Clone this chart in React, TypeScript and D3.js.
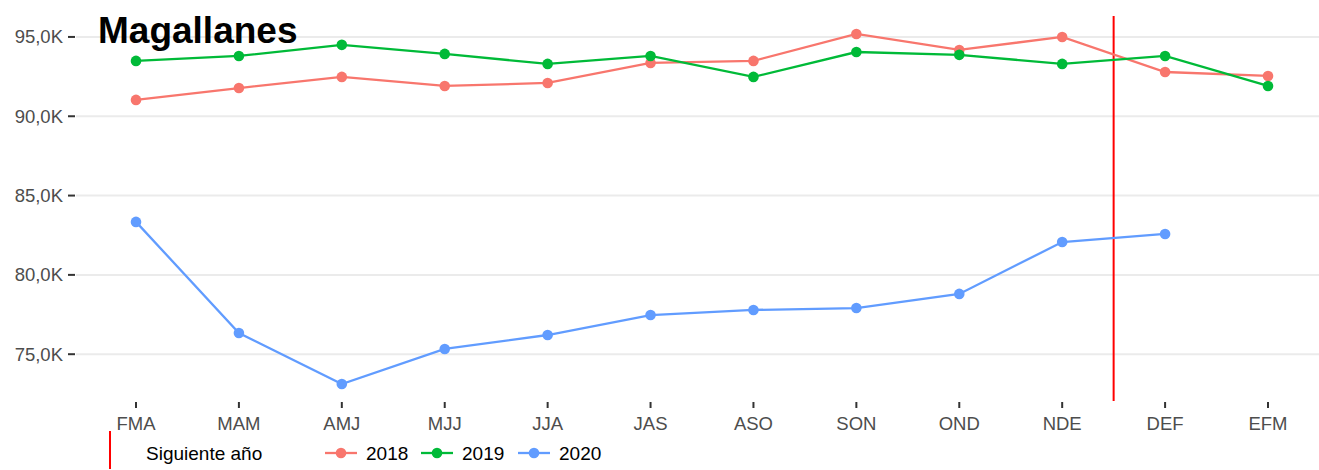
import { useEffect, useRef } from 'react'
import * as d3 from 'd3'

const months = ['FMA', 'MAM', 'AMJ', 'MJJ', 'JJA', 'JAS', 'ASO', 'SON', 'OND', 'NDE', 'DEF', 'EFM']
const years = ['2018', '2019', '2020']
const colors = ['#F8766D', '#00BA38', '#619CFF']
const values2018 = [91030, 91780, 92480, 91910, 92100, 93360, 93490, 95190, 94180, 95000, 92790, 92540]
const values2019 = [93490, 93800, 94500, 93930, 93300, 93800, 92480, 94050, 93870, 93300, 93800, 91910]
const values2020 = [83340, 76340, 73120, 75330, 76210, 77470, 77790, 77910, 78800, 82070, 82580]
const yTicks = [75000, 80000, 85000, 90000, 95000]
const cutIndex = 9.5 // between NDE and DEF

export default function App() {
  const ref = useRef<SVGSVGElement>(null)
  useEffect(() => {
    const width = 1319
    const height = 470
    const svg = d3.select(ref.current)
    svg.selectAll('*').remove()
    const root = svg.attr('viewBox', `0 0 ${width} ${height}`)
    const font = 'Liberation Sans, Arial, sans-serif'

    const panel = { left: 76, right: 1319, top: 16, bottom: 401 }
    const x = d3.scaleLinear().domain([0, 11]).range([136, 1268])
    const y = d3.scaleLinear().domain([72050, 96320]).range([panel.bottom, panel.top])

    // grid
    root.append('g').selectAll('line').data(yTicks).join('line')
      .attr('x1', panel.left).attr('x2', panel.right)
      .attr('y1', d => y(d)).attr('y2', d => y(d))
      .attr('stroke', '#EBEBEB').attr('stroke-width', 2)

    // y axis ticks + labels
    const fmt = (v: number) => (v / 1000).toFixed(1).replace('.', ',') + 'K'
    const ya = root.append('g')
    yTicks.forEach(t => {
      ya.append('line').attr('x1', 68).attr('x2', 75).attr('y1', y(t)).attr('y2', y(t))
        .attr('stroke', '#333').attr('stroke-width', 2)
      ya.append('text').attr('x', 63).attr('y', y(t)).attr('dy', '0.35em')
        .attr('text-anchor', 'end').attr('fill', '#4D4D4D')
        .style('font-family', font).style('font-size', '18.5px').text(fmt(t))
    })

    // x axis ticks + labels
    const xa = root.append('g')
    months.forEach((m, i) => {
      xa.append('line').attr('x1', x(i)).attr('x2', x(i)).attr('y1', 402).attr('y2', 408)
        .attr('stroke', '#333').attr('stroke-width', 2)
      xa.append('text').attr('x', x(i)).attr('y', 430)
        .attr('text-anchor', 'middle').attr('fill', '#4D4D4D')
        .style('font-family', font).style('font-size', '18.5px').text(m)
    })

    // red cut line
    root.append('line')
      .attr('x1', x(cutIndex)).attr('x2', x(cutIndex))
      .attr('y1', panel.top).attr('y2', panel.bottom)
      .attr('stroke', '#FF0000').attr('stroke-width', 2)

    const series = [values2018, values2019, values2020]
    const line = d3.line<number>().x((_, i) => x(i)).y(d => y(d))
    series.forEach((vals, k) => {
      const g = root.append('g')
      g.append('path').attr('d', line(vals))
        .attr('fill', 'none').attr('stroke', colors[k]).attr('stroke-width', 2.3)
      g.selectAll('circle').data(vals).join('circle')
        .attr('cx', (_, i) => x(i)).attr('cy', d => y(d)).attr('r', 5.3)
        .attr('fill', colors[k])
    })

    // title
    root.append('text').attr('x', 98).attr('y', 43)
      .style('font-family', font).style('font-size', '37px').style('font-weight', 'bold')
      .attr('fill', '#000').text('Magallanes')

    // legend
    const lg = root.append('g')
    lg.append('line').attr('x1', 110).attr('x2', 110).attr('y1', 431).attr('y2', 469)
      .attr('stroke', '#FF0000').attr('stroke-width', 2)
    lg.append('text').attr('x', 146).attr('y', 453).attr('dy', '0.35em')
      .style('font-family', font).style('font-size', '19px').attr('fill', '#000')
      .text('Siguiente año')
    const keyX = [325, 421, 518]
    years.forEach((yr, k) => {
      lg.append('line').attr('x1', keyX[k]).attr('x2', keyX[k] + 32).attr('y1', 453).attr('y2', 453)
        .attr('stroke', colors[k]).attr('stroke-width', 2.3)
      lg.append('circle').attr('cx', keyX[k] + 16).attr('cy', 453).attr('r', 5.3).attr('fill', colors[k])
      lg.append('text').attr('x', keyX[k] + 41).attr('y', 453).attr('dy', '0.35em')
        .style('font-family', font).style('font-size', '19px').attr('fill', '#000').text(yr)
    })
  }, [])

  return <svg ref={ref} width={1319} height={470} style={{ display: 'block', position: 'absolute', left: 0, top: 0 }} />
}
